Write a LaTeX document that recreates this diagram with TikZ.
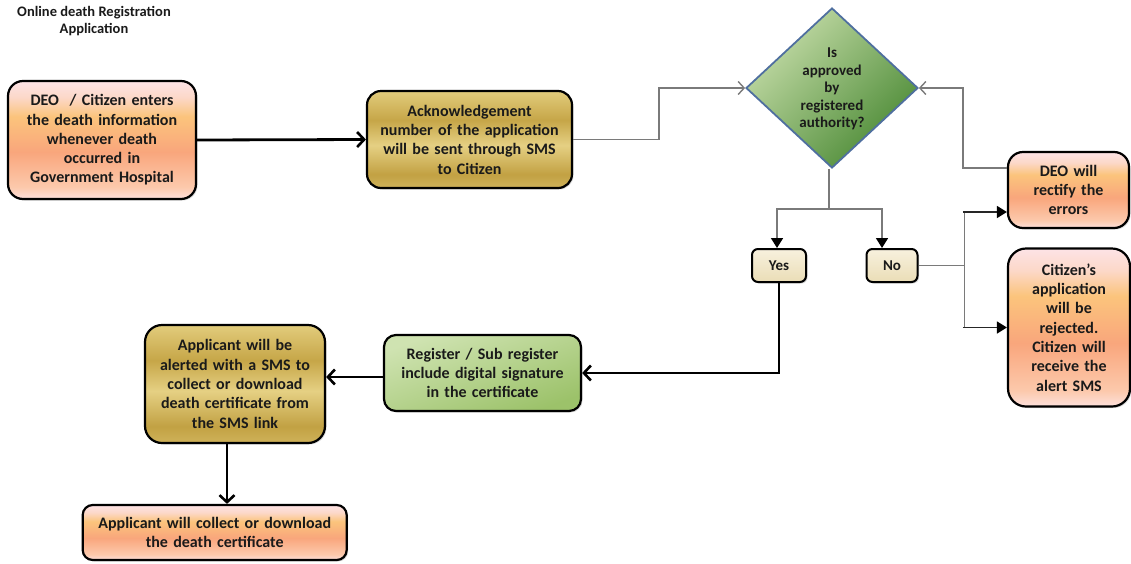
\documentclass[tikz,border=0pt]{standalone}
\usepackage{fontspec}
\setmainfont{Carlito}
\usetikzlibrary{arrows.meta,shapes.geometric,shadows,calc}

\definecolor{orA}{HTML}{FDE0DC}
\definecolor{orB}{HTML}{FCC9AC}
\definecolor{orC}{HTML}{F9A67C}
\definecolor{orD}{HTML}{FBC47C}
\definecolor{orE}{HTML}{FCD8C8}
\definecolor{orF}{HTML}{FDE3E6}
\definecolor{gdA}{HTML}{CFB25A}
\definecolor{gdB}{HTML}{C2A143}
\definecolor{gdC}{HTML}{E5D083}
\definecolor{gdD}{HTML}{C6A648}
\definecolor{gdE}{HTML}{E2CC7C}
\definecolor{grTop}{HTML}{CFE3B1}
\definecolor{grBot}{HTML}{9CC26A}
\definecolor{dmTop}{HTML}{C5DCA8}
\definecolor{dmBot}{HTML}{4B8A35}
\definecolor{dmLine}{HTML}{4F6F9F}
\definecolor{crTop}{HTML}{F8F1DE}
\definecolor{crBot}{HTML}{EADDB6}
\definecolor{lineg}{HTML}{7A7A7A}
\definecolor{txt}{HTML}{1A1A1A}

\pgfdeclareverticalshading{orangesh}{100bp}{color(0bp)=(orA); color(25bp)=(orA); color(30bp)=(orB); color(45bp)=(orC); color(60bp)=(orD); color(68bp)=(orE); color(75bp)=(orF); color(100bp)=(orF)}
\pgfdeclareverticalshading{goldsh}{100bp}{color(0bp)=(gdA); color(25bp)=(gdA); color(32bp)=(gdB); color(47bp)=(gdC); color(60bp)=(gdD); color(75bp)=(gdE); color(100bp)=(gdE)}

\begin{document}
\begin{tikzpicture}[x=1pt,y=-1pt,
  every node/.style={font=\fontsize{16}{19.3}\selectfont\bfseries, text=txt},
  box/.style={draw=black, line width=2.2pt, align=center, inner sep=0pt,
    drop shadow={shadow xshift=1.5pt,shadow yshift=-1.5pt,opacity=0.3}},
  orbox/.style={box, shade, shading=orangesh},
  gdbox/.style={box, shade, shading=goldsh},
  grbox/.style={box, top color=grTop, bottom color=grBot, shading angle=20},
  crbox/.style={box, line width=2pt, top color=crTop, bottom color=crBot, rounded corners=6pt,
    font=\fontsize{15}{18}\selectfont\bfseries},
  diam/.style={diamond, draw=dmLine, line width=1.8pt, inner sep=0pt,
    minimum width=172pt, minimum height=160pt, shape aspect=1.075,
    top color=dmTop, bottom color=dmBot, shading angle=45},
  dtext/.style={align=center, font=\fontsize{15}{17.6}\selectfont\bfseries},
  title/.style={align=center, font=\fontsize{14.5}{17}\selectfont\bfseries},
  gline/.style={draw=lineg, line width=1.6pt},
  bline/.style={draw=black!85, line width=1.6pt},
  bthick/.style={draw=black, line width=2.8pt},
  barb/.style={-{Straight Barb[length=7pt,width=15pt,line width=2.6pt]}},
  tbarb/.style={-{Straight Barb[length=6pt,width=13pt,line width=1.4pt]}},
  tri/.style={-{Triangle[length=10pt,width=12pt,black]}}
]
\useasboundingbox (0,0) rectangle (1131,563);

\node[title] (title) at (94,21.5) {Online death Registration\\Application};

\node[orbox, minimum width=188pt, minimum height=118pt, text width=180pt, rounded corners=15pt]
  (b1) at (102,140) {DEO\ \ / Citizen enters\\the death information\\whenever death\\occurred in\\Government Hospital};

\node[gdbox, minimum width=205pt, minimum height=97pt, text width=198pt, rounded corners=14pt]
  (b2) at (469.5,139.5) {Acknowledgement\\number of the application\\will be sent through SMS\\to Citizen};

\node[diam] (d) at (832,88) {};
\node[dtext] (dt) at (832,89) {Is\\approved\\by\\registered\\authority?};

\node[crbox, minimum width=54pt, minimum height=33pt] (yes) at (779,265.5) {Yes};
\node[crbox, minimum width=51pt, minimum height=33pt] (no) at (892,265.5) {No};

\node[orbox, minimum width=121pt, minimum height=76pt, text width=115pt, rounded corners=15pt]
  (deo) at (1068.5,190) {DEO will\\rectify the\\errors};

\node[orbox, minimum width=122pt, minimum height=158pt, text width=116pt, rounded corners=18pt]
  (cit) at (1069,327.5) {Citizen’s\\application\\will be\\rejected.\\Citizen will\\receive the\\alert SMS};

\node[grbox, minimum width=197pt, minimum height=76pt, text width=190pt, rounded corners=12pt]
  (reg) at (482.5,373) {Register / Sub register\\include digital signature\\in the certificate};

\node[gdbox, minimum width=180pt, minimum height=118pt, text width=174pt, rounded corners=17pt]
  (app) at (235,384) {Applicant will be\\alerted with a SMS to\\collect or download\\death certificate from\\the SMS link};

\node[orbox, minimum width=264pt, minimum height=55pt, text width=258pt, rounded corners=10pt]
  (fin) at (214.7,532.5) {Applicant will collect or download\\the death certificate};

% connectors
\draw[bthick, barb] (b1.east) -- (b2.west);
\draw[gline, tbarb] (b2.east) -- ++(86,0) |- (d.west);
\draw[gline] ($(d.south)+(-3,0)$) -- ++(0,40) coordinate (sp);
\draw[gline, tri] (sp) -| ($(yes.north)+(-2,0)$);
\draw[gline, tri] (sp) -| ($(no.north)+(-10,0)$);
\draw[gline] (no.east) -- ++(46,0) coordinate (ns);
\draw[gline] (ns) |- ($(deo.west)+(-22,22)$);
\draw[gline] (ns) |- ($(cit.west)+(-22,0)$);
\draw[bline, tri] ($(deo.west)+(-44,22)$) -- ($(deo.west)+(0,22)$);
\draw[bline, tri] ($(cit.west)+(-44,0)$) -- (cit.west);
\draw[gline, tbarb] ($(deo.west)+(0,-22)$) -- ++(-44,0) |- (d.east);
\draw[bthick, barb] (yes.south) |- (reg.east);
\coordinate (rw) at ($(reg.west)+(0,4)$);
\draw[bthick, barb] (rw) -- (rw -| app.east);
\coordinate (as) at ($(app.south)+(-8,0)$);
\draw[bthick, barb] (as) -- (as |- fin.north);
\end{tikzpicture}
\end{document}
